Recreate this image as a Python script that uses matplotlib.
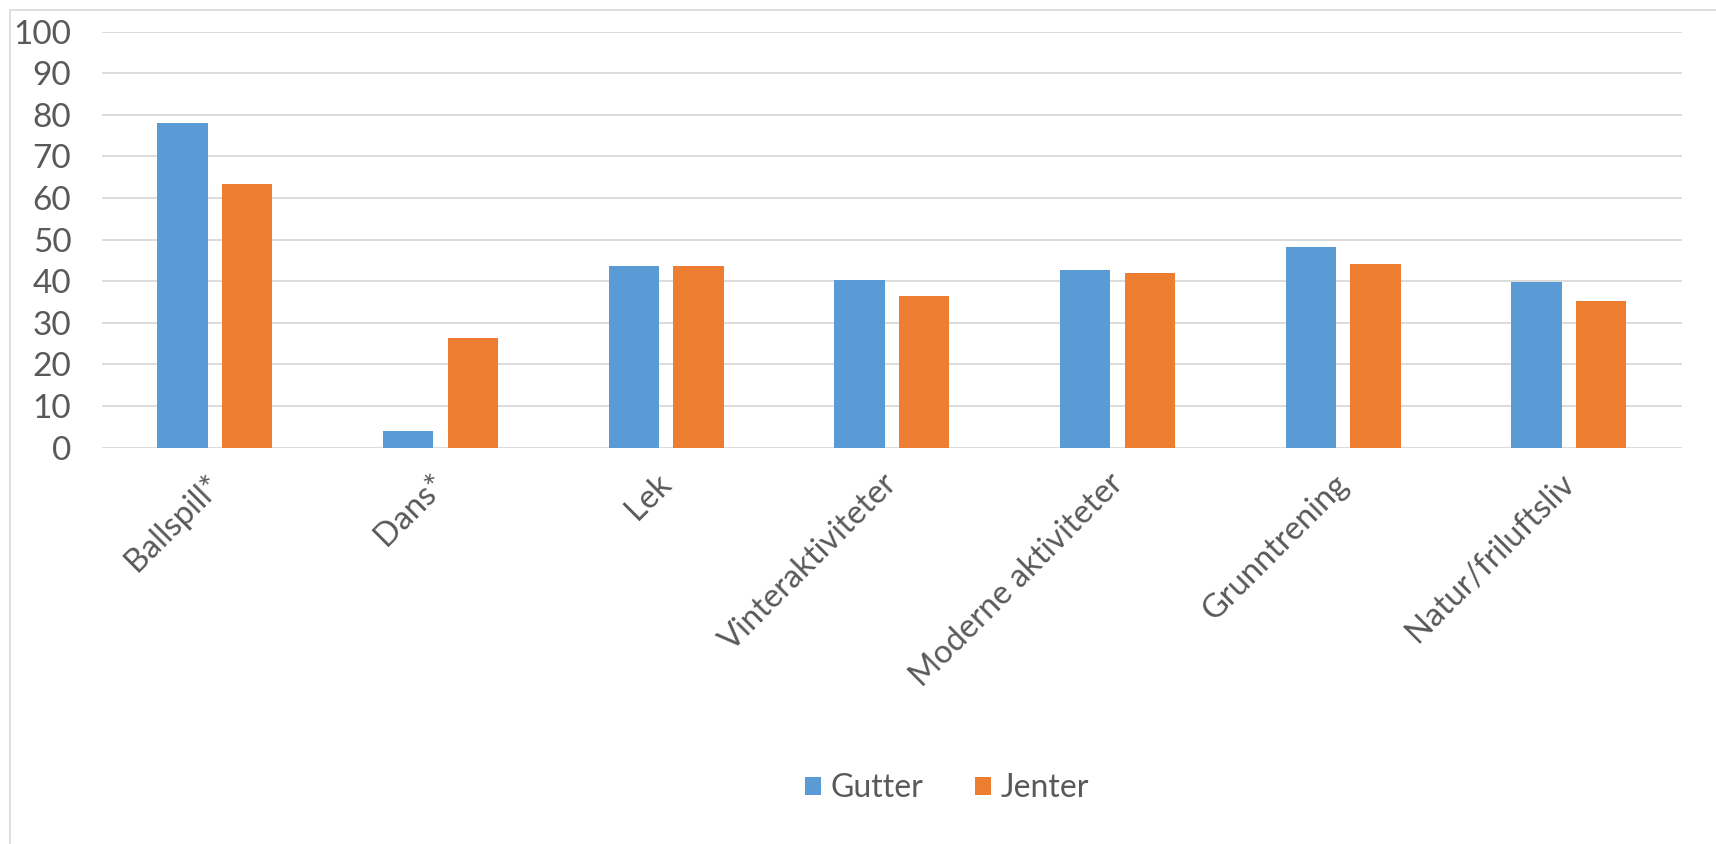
import matplotlib.pyplot as plt
from matplotlib.patches import Rectangle
import matplotlib.transforms as mtransforms
import numpy as np

plt.rcParams['font.family'] = ['Lato', 'DejaVu Sans']

kategorier = ['Ballspill*', 'Dans*', 'Lek', 'Vinteraktiviteter',
              'Moderne aktiviteter', 'Grunntrening', 'Natur/friluftsliv']
gutter = [78.1, 4.1, 43.7, 40.3, 42.7, 48.2, 39.8]
jenter = [63.5, 26.4, 43.7, 36.5, 42.0, 44.2, 35.3]
yticks = [0, 10, 20, 30, 40, 50, 60, 70, 80, 90, 100]

blaa = '#5B9BD5'
oransje = '#ED7D31'
tekst = '#595959'

fig = plt.figure(figsize=(17.16, 8.44), dpi=100)
ax = fig.add_axes([0.0594, 0.4697, 0.9206, 0.4927])

x = np.arange(len(kategorier))
b = 0.223
ax.bar(x - 0.143, gutter, width=b, color=blaa, label='Gutter', zorder=3)
ax.bar(x + 0.143, jenter, width=b, color=oransje, label='Jenter', zorder=3)

ax.set_xlim(-0.5, len(kategorier) - 0.5)
ax.set_ylim(0, 100)
ax.set_yticks(yticks)
ax.yaxis.grid(True, color='#D9D9D9', linewidth=1.3, zorder=0)
ax.set_axisbelow(True)
for s in ax.spines.values():
    s.set_visible(False)
ax.tick_params(axis='x', length=0, colors=tekst, labelsize=23.5)
ax.tick_params(axis='y', length=0, colors=tekst, labelsize=24, pad=22)

ax.set_xticks(x)
ax.set_xticklabels(kategorier, rotation=45, ha='right', rotation_mode='anchor')
flytt = mtransforms.ScaledTranslation(-0.1, -0.16, fig.dpi_scale_trans)
for lab in ax.get_xticklabels():
    lab.set_transform(lab.get_transform() + flytt)

leg = fig.legend(loc='center', bbox_to_anchor=(0.552, 0.066), ncol=2, frameon=False,
                 fontsize=23, handlelength=0.5, handleheight=0.5,
                 handletextpad=0.3, columnspacing=1.6)
for t in leg.get_texts():
    t.set_color(tekst)

# ramme rundt hele diagrammet
fig.patches.append(Rectangle((10 / 1716, -0.1), 1.2, 1 - 10 / 844 + 0.1,
                             transform=fig.transFigure, fill=False,
                             edgecolor='#D9D9D9', linewidth=1.2))

fig.savefig('out.png', dpi=100)
